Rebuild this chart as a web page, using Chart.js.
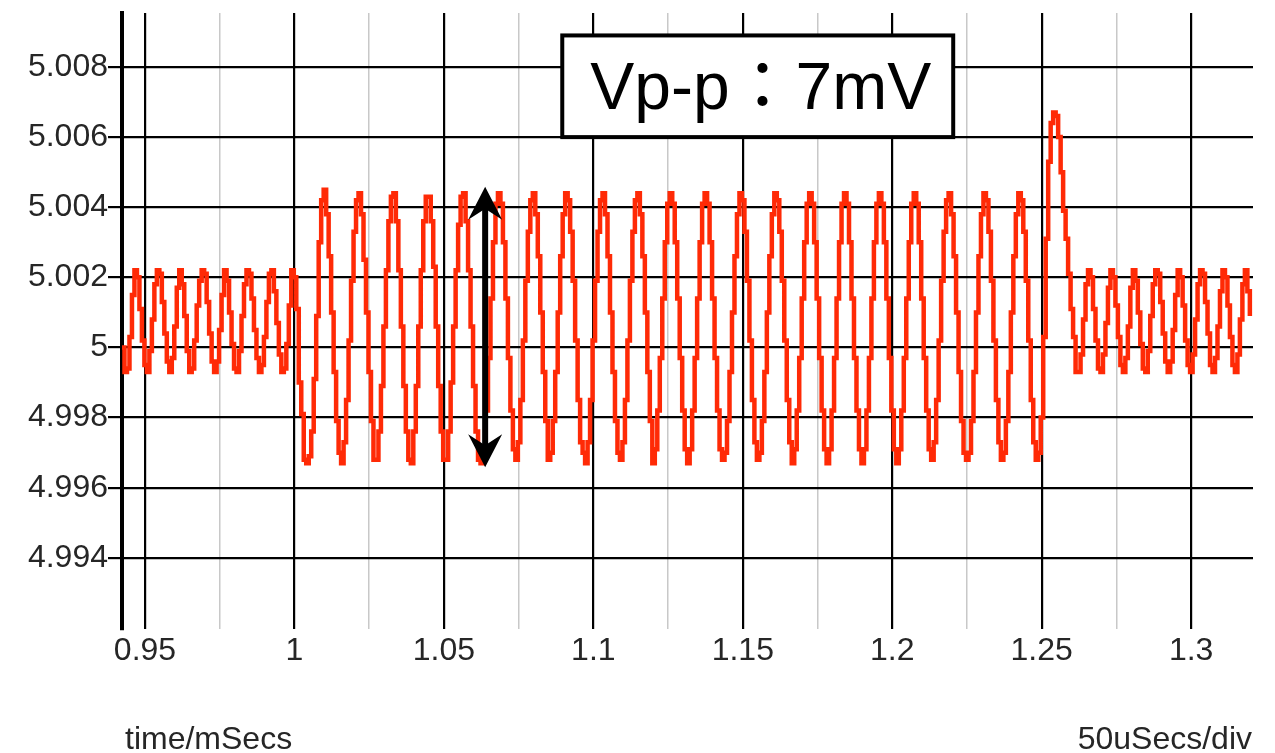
<!DOCTYPE html>
<html>
<head>
<meta charset="utf-8">
<script src="https://cdn.jsdelivr.net/npm/chart.js@4.4.1/dist/chart.umd.min.js"></script>
<style>
    html, body { margin: 0; padding: 0; background: #fff; }
    #area-grafico { width: 1275px; height: 753px; position: relative; }
</style>
</head>
<body>
<div id="area-grafico"><canvas id="grafico-vout"></canvas></div>
<script>
// relogio de amostragem do osciloscopio (ms)
const tempoInicial = 0.9423;
const intervaloAmostra = 0.000833;

// Vout antes do degrau de carga (V)
const antesDegrau = [
    5.0000, 4.9993, 4.9994, 5.0003, 5.0015, 5.0022, 5.0020, 5.0011, 5.0002, 4.9995,
    4.9993, 4.9999, 5.0008, 5.0018, 5.0022, 5.0021, 5.0013, 5.0004, 4.9996, 4.9993,
    4.9997, 5.0006, 5.0017, 5.0022, 5.0018, 5.0009, 4.9999, 4.9993, 4.9994, 5.0002,
    5.0012, 5.0019, 5.0022, 5.0021, 5.0013, 5.0004, 4.9996, 4.9993, 4.9996, 5.0005,
    5.0015, 5.0022, 5.0019, 5.0010, 5.0001, 4.9994, 4.9993, 4.9999, 5.0009, 5.0018,
    5.0022, 5.0021, 5.0014, 5.0005, 4.9997, 4.9993, 4.9995, 5.0003, 5.0013, 5.0021,
    5.0022, 5.0016, 5.0007, 4.9998, 4.9993, 4.9994, 5.0001, 5.0012, 5.0022, 5.0020,
    5.0011
];

// Vout durante o degrau de carga
const duranteDegrau = [
    4.9990, 4.9981, 4.9968, 4.9967, 4.9969, 4.9976, 4.9991, 5.0009, 5.0030,
    5.0042, 5.0045, 5.0038, 5.0026, 5.0010, 4.9993, 4.9979, 4.9970, 4.9967, 4.9973, 4.9985, 5.0002, 5.0019, 5.0033,
    5.0042, 5.0044, 5.0038, 5.0025, 5.0010, 4.9993, 4.9979, 4.9968, 4.9968, 4.9976, 4.9989, 5.0006, 5.0022, 5.0036,
    5.0043, 5.0044, 5.0036, 5.0022, 5.0006, 4.9989, 4.9976, 4.9968, 4.9967, 4.9976, 4.9989, 5.0006, 5.0022, 5.0036,
    5.0043, 5.0043, 5.0036, 5.0023, 5.0006, 4.9989, 4.9976, 4.9968, 4.9968, 4.9976, 4.9990, 5.0006, 5.0022, 5.0035,
    5.0043, 5.0044, 5.0036, 5.0022, 5.0006, 4.9989, 4.9976, 4.9968, 4.9967, 4.9971, 4.9982, 4.9997, 5.0014, 5.0030, 5.0041,
    5.0044, 5.0041, 5.0030, 5.0014, 4.9997, 4.9982, 4.9971, 4.9968, 4.9973, 4.9985, 5.0002, 5.0019, 5.0033,
    5.0042, 5.0044, 5.0038, 5.0026, 5.0010, 4.9993, 4.9979, 4.9968, 4.9970, 4.9979, 4.9993, 5.0010, 5.0026, 5.0038,
    5.0044, 5.0042, 5.0033, 5.0019, 5.0002, 4.9985, 4.9973, 4.9970, 4.9967, 4.9973, 4.9985, 5.0002, 5.0019, 5.0033,
    5.0042, 5.0044, 5.0038, 5.0026, 5.0010, 4.9993, 4.9979, 4.9970, 4.9968, 4.9973, 4.9985, 5.0002, 5.0019, 5.0033,
    5.0042, 5.0044, 5.0038, 5.0026, 5.0010, 4.9993, 4.9979, 4.9967, 4.9971, 4.9982, 4.9997, 5.0014, 5.0030, 5.0041,
    5.0044, 5.0041, 5.0030, 5.0014, 4.9997, 4.9982, 4.9971, 4.9967, 4.9971, 4.9982, 4.9997, 5.0014, 5.0030, 5.0041,
    5.0044, 5.0041, 5.0030, 5.0014, 4.9997, 4.9982, 4.9971, 4.9968, 4.9970, 4.9979, 4.9993, 5.0010, 5.0026, 5.0038,
    5.0044, 5.0042, 5.0033, 5.0019, 5.0002, 4.9985, 4.9973, 4.9968, 4.9970, 4.9979, 4.9993, 5.0010, 5.0026, 5.0038,
    5.0044, 5.0042, 5.0033, 5.0019, 5.0002, 4.9985, 4.9973, 4.9967, 4.9971, 4.9982, 4.9997, 5.0014, 5.0030, 5.0041,
    5.0044, 5.0041, 5.0030, 5.0014, 4.9997, 4.9982, 4.9971, 4.9967, 4.9971, 4.9982, 4.9997, 5.0014, 5.0030, 5.0041,
    5.0044, 5.0041, 5.0030, 5.0014, 4.9997, 4.9982, 4.9971, 4.9967, 4.9971, 4.9982, 4.9997, 5.0014, 5.0030, 5.0041,
    5.0044, 5.0041, 5.0030, 5.0014, 4.9997, 4.9982, 4.9971, 4.9967, 4.9971, 4.9982, 4.9997, 5.0014, 5.0030, 5.0041,
    5.0044, 5.0041, 5.0030, 5.0014, 4.9997, 4.9982, 4.9971, 4.9968, 4.9973, 4.9985, 5.0002, 5.0019, 5.0033,
    5.0042, 5.0044, 5.0038, 5.0026, 5.0010, 4.9993, 4.9979, 4.9970, 4.9968, 4.9970, 4.9979, 4.9993, 5.0010, 5.0026, 5.0038,
    5.0044, 5.0042, 5.0033, 5.0019, 5.0002, 4.9985, 4.9973, 4.9968, 4.9970, 4.9979, 4.9993, 5.0010, 5.0026, 5.0038,
    5.0044, 5.0042, 5.0033, 5.0019, 5.0002, 4.9985, 4.9973
];

// pico na retirada da carga
const picoRetirada = [
    4.9968, 4.9970, 4.9980, 5.0003, 5.0031, 5.0053, 5.0064, 5.0067, 5.0066,
    5.0060, 5.0050, 5.0039, 5.0031, 5.0021, 5.0011, 5.0003, 4.9993, 4.9993
];

// Vout depois da retirada da carga
const depoisDegrau = [
    4.9998, 5.0008, 5.0018, 5.0022, 5.0020, 5.0011, 5.0002, 4.9994, 4.9993,
    4.9998, 5.0007, 5.0017, 5.0022, 5.0020, 5.0012, 5.0003, 4.9995, 4.9993,
    4.9997, 5.0006, 5.0017, 5.0022, 5.0019, 5.0010, 5.0001, 4.9994, 4.9993,
    4.9999, 5.0009, 5.0018, 5.0022, 5.0021, 5.0013, 5.0004, 4.9996, 4.9993,
    4.9996, 5.0005, 5.0015, 5.0022, 5.0020, 5.0012, 5.0002, 4.9995, 4.9993,
    4.9998, 5.0008, 5.0018, 5.0022, 5.0021, 5.0013, 5.0004, 4.9995, 4.9993,
    4.9997, 5.0006, 5.0016, 5.0022, 5.0020, 5.0012, 5.0003, 4.9995, 4.9993,
    4.9998, 5.0008, 5.0018, 5.0022, 5.0016, 5.0009
];

// eixos
const limitesTempo = [0.9423, 1.3207];
const limitesTensao = [4.99197, 5.00954];
const ticksTempo = [0.95, 0.975, 1, 1.025, 1.05, 1.075, 1.1, 1.125, 1.15, 1.175, 1.2, 1.225, 1.25, 1.275, 1.3];
const rotulosTempo = ['0.95', '', '1', '', '1.05', '', '1.1', '', '1.15', '', '1.2', '', '1.25', '', '1.3'];
const ticksTensao = [4.994, 4.996, 4.998, 5, 5.002, 5.004, 5.006, 5.008];
const rotulosTensao = ['4.994', '4.996', '4.998', '5', '5.002', '5.004', '5.006', '5.008'];

const textoVpp = 'Vp-p\uFF1A7mV';
const tempoSeta = 1.0638;
const caixaVpp = { inicio: 1.0896, fim: 1.2204, topo: 5.0089, base: 5.0060 };

const corTexto = '#262626';
const fonteBase = "'Liberation Sans', Arial, Helvetica, sans-serif";

// junta as amostras com o tempo de cada uma
let todasAmostras = antesDegrau.concat(duranteDegrau, picoRetirada, depoisDegrau);
let pontos = todasAmostras.map((v, i) => ({ x: tempoInicial + i * intervaloAmostra, y: v }));

// seta dupla, caixa do Vp-p e textos de rodape
const anotacoes = {
    id: 'anotacoes',
    afterDatasetsDraw(chart) {
        const ctx = chart.ctx;
        const eixoX = chart.scales.x;
        const eixoY = chart.scales.y;

        ctx.save();
        let xs = eixoX.getPixelForValue(tempoSeta);
        let yTopo = eixoY.getPixelForValue(Math.max(...duranteDegrau)) - 3;
        let yBase = eixoY.getPixelForValue(Math.min(...duranteDegrau)) + 4;
        ctx.strokeStyle = '#000';
        ctx.fillStyle = '#000';
        ctx.lineWidth = 6;
        ctx.beginPath();
        ctx.moveTo(xs, yTopo + 20);
        ctx.lineTo(xs, yBase - 20);
        ctx.stroke();
        // pontas da seta
        [[yTopo, 1], [yBase, -1]].forEach(([yp, dir]) => {
            ctx.beginPath();
            ctx.moveTo(xs, yp);
            ctx.lineTo(xs + 17, yp + dir * 33);
            ctx.lineTo(xs, yp + dir * 22);
            ctx.lineTo(xs - 17, yp + dir * 33);
            ctx.closePath();
            ctx.fill();
        });

        // caixa com o valor de pico a pico
        let x0 = eixoX.getPixelForValue(caixaVpp.inicio);
        let x1 = eixoX.getPixelForValue(caixaVpp.fim);
        let y0 = eixoY.getPixelForValue(caixaVpp.topo);
        let y1 = eixoY.getPixelForValue(caixaVpp.base);
        ctx.fillStyle = '#fff';
        ctx.fillRect(x0, y0, x1 - x0, y1 - y0);
        ctx.lineWidth = 4;
        ctx.strokeStyle = '#000';
        ctx.strokeRect(x0, y0, x1 - x0, y1 - y0);
        ctx.fillStyle = '#000';
        ctx.font = "66px 'Liberation Sans', Arial, 'Noto Sans CJK JP', sans-serif";
        ctx.textAlign = 'center';
        ctx.textBaseline = 'alphabetic';
        ctx.fillText(textoVpp, (x0 + x1) / 2 + 3, (y0 + y1) / 2 + 23);
        ctx.restore();
    },
    afterDraw(chart) {
        const ctx = chart.ctx;
        const area = chart.chartArea;
        ctx.save();
        ctx.fillStyle = corTexto;
        ctx.font = '32px ' + fonteBase;
        ctx.textBaseline = 'alphabetic';
        ctx.textAlign = 'left';
        ctx.fillText('time/mSecs', area.left + 3, chart.height - 4);
        ctx.textAlign = 'right';
        ctx.fillText('50uSecs/div', area.right - 1, chart.height - 4);
        ctx.restore();
    }
};

new Chart(document.getElementById('grafico-vout'), {
    type: 'line',
    data: {
        datasets: [{
            label: 'Vout',
            data: pontos,
            stepped: true,
            borderColor: '#ff2a06',
            borderWidth: 4.5,
            pointRadius: 0,
            fill: false,
        }],
    },
    options: {
        responsive: true,
        maintainAspectRatio: false,
        animation: false,
        layout: { padding: { top: 13, right: 22, left: 0, bottom: 0 } },
        plugins: {
            legend: { display: false },
            tooltip: { enabled: false },
        },
        scales: {
            x: {
                type: 'linear',
                min: limitesTempo[0],
                max: limitesTempo[1],
                afterBuildTicks: (eixo) => { eixo.ticks = ticksTempo.map(v => ({ value: v })); },
                afterFit: (eixo) => { eixo.height = 124; },
                ticks: {
                    autoSkip: false,
                    maxRotation: 0,
                    padding: 3,
                    color: corTexto,
                    font: { family: fonteBase, size: 32 },
                    callback: (v, i) => rotulosTempo[i],
                },
                grid: {
                    drawTicks: false,
                    color: (c) => rotulosTempo[c.index] ? '#000' : '#c8c8c8',
                    lineWidth: (c) => rotulosTempo[c.index] ? 2.2 : 1.5,
                },
                border: { display: false },
            },
            y: {
                type: 'linear',
                min: limitesTensao[0],
                max: limitesTensao[1],
                afterBuildTicks: (eixo) => { eixo.ticks = ticksTensao.map(v => ({ value: v })); },
                afterFit: (eixo) => {
                    eixo.width = 122;
                    // sem folga extra para os rotulos das pontas
                    eixo.paddingTop = 0;
                    eixo.paddingBottom = 0;
                },
                ticks: {
                    padding: 0,
                    color: corTexto,
                    font: { family: fonteBase, size: 32 },
                    callback: (v, i) => rotulosTensao[i],
                },
                grid: {
                    color: '#000',
                    lineWidth: 2.2,
                    drawTicks: true,
                    tickLength: 14,
                    tickColor: '#000',
                    tickWidth: 2.2,
                },
                border: { display: true, color: '#000', width: 4 },
            },
        },
    },
    plugins: [anotacoes],
});
</script>
</body>
</html>
